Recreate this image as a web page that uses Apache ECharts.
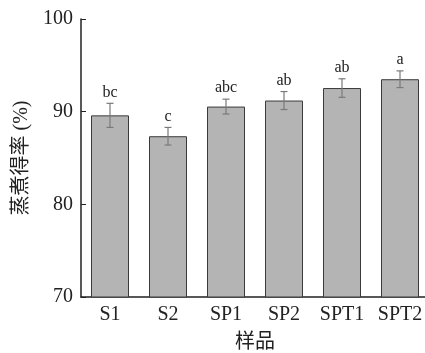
<!DOCTYPE html>
<html><head><meta charset="utf-8">
<script src="https://cdn.jsdelivr.net/npm/echarts@6/dist/echarts.min.js"></script>
<style>html,body{margin:0;padding:0;background:#fff}#c{width:425px;height:353px}</style>
</head><body><div id="c"></div>
<script>
const categories = ['S1','S2','SP1','SP2','SPT1','SPT2'];
const values = [89.6, 87.35, 90.55, 91.2, 92.55, 93.5];
const errors = [1.3, 0.95, 0.8, 0.97, 1.0, 0.9];
const letters = ['bc','c','abc','ab','ab','a'];
const yTicks = [70, 80, 90, 100];

const serif = "'Liberation Serif','Times New Roman','Noto Sans CJK SC',serif";
const chart = echarts.init(document.getElementById('c'), null, {renderer:'canvas'});
const errData = categories.map((c,i)=>[i, values[i], errors[i], letters[i]]);
chart.setOption({
  animation:false,
  grid:{left:81, top:19, width:348, height:278, containLabel:false, outerBoundsMode:'none'},
  xAxis:{type:'category', data:categories,
    name:'样品', nameLocation:'middle', nameGap:36,
    nameTextStyle:{fontFamily:serif, fontSize:20, color:'#222'},
    axisLine:{lineStyle:{color:'#222', width:1.5}},
    axisTick:{inside:true, length:5, alignWithLabel:true, lineStyle:{color:'#222'}},
    axisLabel:{fontFamily:serif, fontSize:20, color:'#222', margin:8, interval:0, hideOverlap:false}},
  yAxis:{type:'value', min:yTicks[0], max:yTicks[yTicks.length-1], interval:10,
    name:'蒸煮得率 (%)', nameLocation:'middle', nameGap:49, nameRotate:90,
    nameTextStyle:{fontFamily:serif, fontSize:20, color:'#222'},
    splitLine:{show:false},
    axisLine:{show:true, lineStyle:{color:'#222', width:1.5}},
    axisTick:{show:true, inside:true, length:5, lineStyle:{color:'#222'}},
    axisLabel:{fontFamily:serif, fontSize:20, color:'#222', margin:8}},
  series:[
    {type:'bar', data:values, barWidth:38,
     itemStyle:{color:'#b4b4b4', borderColor:'#3a3a3a', borderWidth:1}},
    {type:'custom', data:errData, z:10,
     renderItem:function(params, api){
       const x = api.value(0), v = api.value(1), e = api.value(2);
       const top = api.coord([x, v+e]);
       const bot = api.coord([x, v-e]);
       const cw = 3.5;
       const st = {stroke:'#7a7a7a', lineWidth:1.2};
       return {type:'group', children:[
         {type:'line', shape:{x1:top[0], y1:top[1], x2:bot[0], y2:bot[1]}, style:st},
         {type:'line', shape:{x1:top[0]-cw, y1:top[1], x2:top[0]+cw, y2:top[1]}, style:st},
         {type:'line', shape:{x1:bot[0]-cw, y1:bot[1], x2:bot[0]+cw, y2:bot[1]}, style:st},
         {type:'text', x:top[0], y:top[1]-3, style:{text:api.value(3), fontFamily:serif, fontSize:16, fill:'#222', align:'center', verticalAlign:'bottom'}}
       ]};
     }}
  ]
});
</script></body></html>
